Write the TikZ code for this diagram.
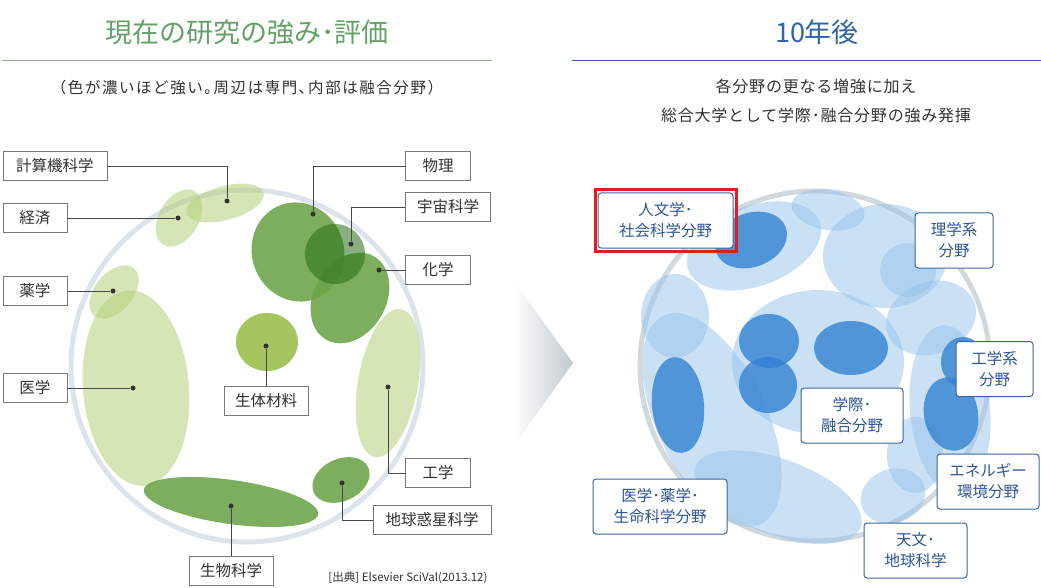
\documentclass[tikz,border=0pt]{standalone}
\usepackage{fontspec}
\setmainfont{Noto Sans CJK JP}
\usetikzlibrary{fit}
\definecolor{gtitle}{RGB}{100,160,105}
\definecolor{gline}{RGB}{140,175,140}
\definecolor{btitle}{RGB}{45,100,170}
\definecolor{bline}{RGB}{60,100,160}
\definecolor{ltgreen}{RGB}{180,208,120}
\definecolor{mdgreen}{RGB}{110,165,75}
\definecolor{dkgreen}{RGB}{40,110,20}
\definecolor{biogreen}{RGB}{165,198,95}
\definecolor{ltblue}{RGB}{150,195,235}
\definecolor{dkblue}{RGB}{50,130,210}
\definecolor{ringgray}{RGB}{220,227,234}
\definecolor{boxgray}{RGB}{120,120,120}
\definecolor{txtgray}{RGB}{50,50,50}
\definecolor{btext}{RGB}{45,85,150}
\definecolor{arrowgray}{RGB}{192,202,207}
\definecolor{hlred}{RGB}{225,30,30}
\newcommand\myell[6]{\fill[#1, rotate around={#6:(#2,#3)}] (#2,#3) ellipse [x radius=#4, y radius=#5];}
\tikzset{
  lb/.style={draw=boxgray, line width=0.8pt, fill=white, minimum height=29pt, inner sep=0pt, text=txtgray, font=\fontsize{15.5}{18}\selectfont},
  rb/.style={draw=bline, line width=1pt, fill=white, rounded corners=3pt, inner sep=0pt, minimum height=55pt, align=center, text=btext, font=\fontsize{15.5}{21}\selectfont},
  dotn/.style={circle, fill=txtgray, inner sep=0pt, minimum size=5pt},
  conn/.style={draw=txtgray!90, line width=0.9pt},
  lg/.style={fill=ltgreen, opacity=0.55},
  mg/.style={fill=mdgreen, opacity=0.9},
  lbl/.style={fill=ltblue, opacity=0.5},
  dbl/.style={fill=dkblue, opacity=0.8}
}
\begin{document}
\begin{tikzpicture}[x=1pt,y=-1pt]
\useasboundingbox (0,0) rectangle (1041,588);
% ---------- left header
\node[text=gtitle, font=\fontsize{27}{30}\selectfont] (ltitle) at (247,32) {現在の研究の強み･評価};
\coordinate (ll1) at (2,60); \coordinate (ll2) at (492,60);
\draw[gline, line width=0.8pt] (ll1) -- (ll2);
\node[text=txtgray, font=\fontsize{15.5}{18}\selectfont\addfontfeature{LetterSpace=10}] (lsub) at (247,88) {（色が濃いほど強い｡周辺は専門､内部は融合分野）};
% ---------- left ring
\draw[ringgray, line width=5pt] (247,366) circle [radius=176];
% ellipses
\myell{lg}{225}{203}{40}{17}{15}
\myell{lg}{179}{218}{31}{20}{60}
\myell{lg}{114}{292}{31}{19}{50}
\myell{lg}{136}{388}{53}{98}{5}
\myell{lg}{388}{383}{30}{75}{-10}
\myell{fill=biogreen}{267}{342}{31}{29}{0}
\myell{mg}{298}{252}{46}{50}{20}
\myell{mg}{350}{298}{36}{48}{-30}
\myell{fill=dkgreen, opacity=0.55}{335}{254}{30}{30}{0}
\myell{mg}{341}{480}{30}{21}{25}
\myell{mg}{231}{502}{88}{22}{-8}
% dots
\node[dotn] (d1) at (227,201) {};
\node[dotn] (d2) at (178,218) {};
\node[dotn] (d3) at (113,291) {};
\node[dotn] (d4) at (133,388) {};
\node[dotn] (d5) at (266,346) {};
\node[dotn] (d6) at (313,214) {};
\node[dotn] (d7) at (351,244) {};
\node[dotn] (d8) at (379,270) {};
\node[dotn] (d9) at (388,387) {};
\node[dotn] (d10) at (342,483) {};
\node[dotn] (d11) at (231,506) {};
% boxes
\node[lb, minimum width=104pt] (b1) at (55,166) {計算機科学};
\node[lb, minimum width=64pt] (b2) at (35,218) {経済};
\node[lb, minimum width=64pt] (b3) at (35,291) {薬学};
\node[lb, minimum width=64pt] (b4) at (35,388) {医学};
\node[lb, minimum width=84pt] (b5) at (266,401) {生体材料};
\node[lb, minimum width=65pt] (b6) at (438,166) {物理};
\node[lb, minimum width=85pt] (b7) at (448,207) {宇宙科学};
\node[lb, minimum width=65pt] (b8) at (438,270) {化学};
\node[lb, minimum width=65pt] (b9) at (438,473) {工学};
\node[lb, minimum width=118pt] (b10) at (432,520) {地球惑星科学};
\node[lb, minimum width=84pt] (b11) at (231,571) {生物科学};
% connectors
\draw[conn] (b1.east) -| (d1);
\draw[conn] (b2.east) -- (d2);
\draw[conn] (b3.east) -- (d3);
\draw[conn] (b4.east) -- (d4);
\draw[conn] (b5.north) -- (d5);
\draw[conn] (b6.west) -| (d6);
\draw[conn] (b7.west) -| (d7);
\draw[conn] (b8.west) -- (d8);
\draw[conn] (b9.west) -| (d9);
\draw[conn] (b10.west) -| (d10);
\draw[conn] (b11.north) -- (d11);
\node[anchor=east, text=txtgray, font=\fontsize{11.5}{14}\selectfont] (src) at (491,578) {[出典] Elsevier SciVal(2013.12)};
% ---------- arrow
\coordinate (a1) at (513,280); \coordinate (a2) at (573,363); \coordinate (a3) at (513,447);
\shade[left color=white, right color=arrowgray] (a1) -- (a2) -- (a3) -- cycle;
% ---------- right header
\node[text=btitle, font=\fontsize{27}{30}\selectfont] (rtitle) at (817,32) {10年後};
\coordinate (rl1) at (572,60); \coordinate (rl2) at (1041,60);
\draw[bline, line width=0.8pt] (rl1) -- (rl2);
\node[text=txtgray, font=\fontsize{16}{29}\selectfont\addfontfeature{LetterSpace=5}, align=center] (rsub) at (816,101) {各分野の更なる増強に加え\\総合大学として学際･融合分野の強み発揮};
% ---------- right ring
\draw[ringgray!95!black, line width=5pt] (815,366) circle [radius=175];
\myell{lbl}{754}{246}{70}{40}{20}
\myell{lbl}{828}{210}{37}{20}{-10}
\myell{lbl}{885}{256}{62}{52}{0}
\myell{lbl}{908}{270}{28}{27}{0}
\myell{lbl}{675}{316}{34}{42}{0}
\myell{lbl}{818}{362}{86}{72}{0}
\myell{lbl}{931}{318}{46}{36}{20}
\myell{lbl}{950}{410}{40}{85}{5}
\myell{lbl}{915}{455}{28}{38}{0}
\myell{lbl}{893}{496}{33}{27}{20}
\myell{lbl}{778}{497}{88}{38}{-20}
\myell{lbl}{712}{420}{55}{115}{25}
\myell{dbl}{751}{240}{37}{27}{20}
\myell{dbl}{769}{341}{30}{27}{0}
\myell{dbl}{851}{348}{37}{27}{0}
\myell{dbl}{768}{385}{29}{28}{0}
\myell{dbl}{963}{362}{22}{25}{0}
\myell{dbl}{951}{414}{27}{37}{10}
\myell{dbl}{678}{405}{26}{48}{5}
% right boxes
\node[rb, minimum width=135pt] (r1) at (665.5,220.5) {人文学･\\社会科学分野};
\node[draw=hlred, line width=3pt, inner sep=2.5pt, fit=(r1)] (r1hl) {};
\node[rb, minimum width=78pt] (r2) at (954,240.5) {理学系\\分野};
\node[rb, minimum width=77pt] (r3) at (994.5,369) {工学系\\分野};
\node[rb, minimum width=102pt] (r4) at (852,415.5) {学際･\\融合分野};
\node[rb, minimum width=102pt] (r5) at (988,481.5) {エネルギー\\環境分野};
\node[rb, minimum width=134pt] (r6) at (660,506.5) {医学･薬学･\\生命科学分野};
\node[rb, minimum width=103pt] (r7) at (915.5,550.5) {天文･\\地球科学};
\end{tikzpicture}
\end{document}
